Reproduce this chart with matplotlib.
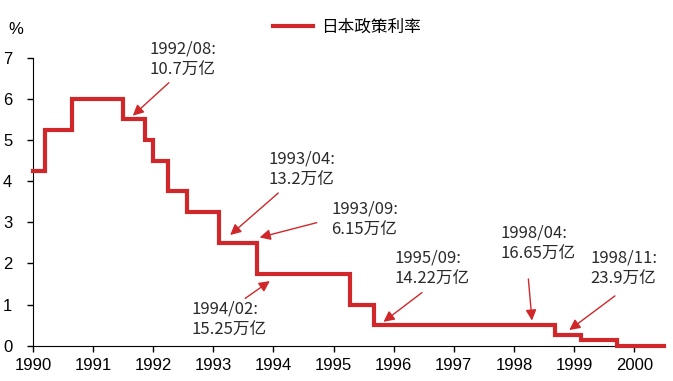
import matplotlib.pyplot as plt

plt.rcParams['font.family'] = ['Liberation Sans', 'DejaVu Sans']
CJK = ['Noto Sans CJK SC', 'DejaVu Sans']

# Policy rate change dates (decimal years) and levels (%)
dates = [1990.0, 1990.2, 1990.65, 1991.49, 1991.87, 1991.99, 1992.24, 1992.56,
         1993.09, 1993.72, 1995.27, 1995.68, 1998.69, 1999.11, 1999.71, 2000.5]
rates = [4.25, 5.25, 6.0, 5.5, 5.0, 4.5, 3.75, 3.25,
         2.5, 1.75, 1.0, 0.5, 0.25, 0.15, 0.0, 0.0]

years = list(range(1990, 2001))

# Stimulus package notes: label, text position, arrow tail, arrow head
notes = [
    ("1992/08:\n10.7万亿", (1991.94, 6.96), (1992.26, 6.39), (1991.66, 5.59)),
    ("1993/04:\n13.2万亿", (1993.92, 4.27), (1994.08, 3.71), (1993.28, 2.69)),
    ("1993/09:\n6.15万亿", (1994.96, 3.06), (1994.72, 2.99), (1993.77, 2.63)),
    ("1994/02:\n15.25万亿", (1992.63, 0.63), (1993.53, 1.15), (1993.94, 1.57)),
    ("1995/09:\n14.22万亿", (1996.02, 1.88), (1996.47, 1.29), (1995.83, 0.58)),
    ("1998/04:\n16.65万亿", (1997.77, 2.49), (1998.24, 1.62), (1998.30, 0.61)),
    ("1998/11:\n23.9万亿", (1999.27, 1.88), (1999.68, 1.21), (1998.92, 0.38)),
]

red = "#D0282A"

fig = plt.figure(figsize=(6.73, 3.81), dpi=100)
ax = fig.add_axes([0.049, 0.0927, 0.938, 0.756])

ax.step(dates, rates, where="post", color=red, lw=3, label="日本政策利率",
        clip_on=False, zorder=3, solid_joinstyle="miter")

for label, txt, tail, head in notes:
    ax.annotate("", xy=head, xytext=tail,
                arrowprops=dict(arrowstyle="-|>", color=red, lw=1,
                                mutation_scale=16, shrinkA=0, shrinkB=0))
    ax.text(txt[0], txt[1], label, ha="left", va="center", fontsize=12,
            family=CJK, linespacing=1.33, color="#2a2a2a")

ax.set_xlim(1990, 2000.5)
ax.set_ylim(0, 7)
ax.set_xticks(years)
ax.set_yticks(range(0, 8))
ax.tick_params(direction="out", length=4, width=1, labelsize=12, colors="black")
ax.tick_params(axis="x", pad=5)
ax.tick_params(axis="y", pad=11)
ax.spines["top"].set_visible(False)
ax.spines["right"].set_visible(False)

fig.text(8 / 673, 1 - 30 / 381, "%", ha="left", va="center", fontsize=12)

leg = ax.legend(loc="center", bbox_to_anchor=(0.515, 1 - 27 / 381),
                bbox_transform=fig.transFigure, frameon=False,
                handlelength=2.4, handletextpad=0.5,
                prop={"family": CJK, "size": 12})

fig.savefig("out.png", dpi=100)
